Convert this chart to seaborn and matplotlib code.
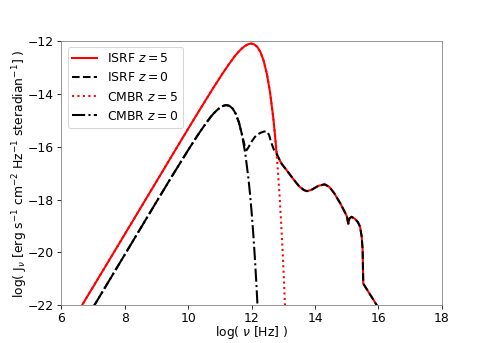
import matplotlib
matplotlib.use("Agg")
import matplotlib.pyplot as plt
import seaborn as sns

# log(nu [Hz]) and log(J_nu)
isrf_z0_x = [7.0, 8.0, 9.0, 9.5, 10.0, 10.3, 10.5, 10.7, 10.8, 10.9, 11.0, 11.1, 11.2, 11.3, 11.4,
             11.5, 11.6, 11.7, 11.78, 11.84, 11.9, 12.0, 12.1, 12.2, 12.3, 12.4, 12.48, 12.55, 12.62,
             12.7, 12.8, 12.95, 13.1, 13.3, 13.5, 13.65, 13.75, 13.9, 14.1, 14.3, 14.45, 14.6, 14.8,
             14.95, 15.0, 15.05, 15.08, 15.15, 15.25, 15.35, 15.42, 15.47, 15.5, 15.52, 16.0]
isrf_z0_y = [-22.08, -20.08, -18.08, -17.09, -16.12, -15.56, -15.21, -14.88, -14.74, -14.62, -14.52,
             -14.45, -14.42, -14.45, -14.55, -14.75, -15.08, -15.56, -15.95, -16.13, -16.02, -15.8,
             -15.63, -15.52, -15.46, -15.42, -15.42, -15.55, -15.85, -16.1, -16.3, -16.65, -16.88,
             -17.2, -17.5, -17.64, -17.68, -17.62, -17.48, -17.42, -17.52, -17.75, -18.15, -18.5,
             -18.62, -18.93, -18.72, -18.65, -18.72, -18.85, -19.03, -19.4, -19.9, -21.18, -22.1]

isrf_z5_x = [6.6, 7.78, 8.78, 9.78, 10.28, 10.78, 11.08, 11.28, 11.48, 11.58, 11.68, 11.78, 11.88,
             11.98, 12.08, 12.18, 12.28, 12.38, 12.48, 12.58, 12.68, 12.73, 12.78, 12.82,
             12.95, 13.1, 13.3, 13.5, 13.65, 13.75, 13.9, 14.1, 14.3, 14.45, 14.6, 14.8,
             14.95, 15.0, 15.05, 15.08, 15.15, 15.25, 15.35, 15.42, 15.47, 15.5, 15.52, 16.0]
isrf_z5_y = [-22.1, -19.75, -17.75, -15.75, -14.76, -13.79, -13.23, -12.88, -12.55, -12.41, -12.29,
             -12.19, -12.12, -12.09, -12.12, -12.22, -12.42, -12.75, -13.24, -13.93, -14.88, -15.47,
             -16.15, -16.36, -16.65, -16.88, -17.2, -17.5, -17.64, -17.68, -17.62, -17.48, -17.42,
             -17.52, -17.75, -18.15, -18.5, -18.62, -18.93, -18.72, -18.65, -18.72, -18.85, -19.03,
             -19.4, -19.9, -21.18, -22.1]

cmbr_z5_x = [6.6, 7.78, 8.78, 9.78, 10.28, 10.78, 11.08, 11.28, 11.48, 11.58, 11.68, 11.78, 11.88,
             11.98, 12.08, 12.18, 12.28, 12.38, 12.48, 12.58, 12.68, 12.73, 12.78, 12.83, 12.88,
             12.93, 12.98, 13.03, 13.08]
cmbr_z5_y = [-22.1, -19.75, -17.75, -15.75, -14.76, -13.79, -13.23, -12.88, -12.55, -12.41, -12.29,
             -12.19, -12.12, -12.09, -12.12, -12.22, -12.42, -12.75, -13.24, -13.93, -14.88, -15.47,
             -16.15, -16.94, -17.84, -18.86, -20.03, -21.36, -22.87]

cmbr_z0_x = [7.0, 8.0, 9.0, 9.5, 10.0, 10.3, 10.5, 10.7, 10.8, 10.9, 11.0, 11.1, 11.2, 11.3, 11.4,
             11.5, 11.6, 11.7, 11.8, 11.9, 11.95, 12.0, 12.05, 12.1, 12.15, 12.2]
cmbr_z0_y = [-22.08, -20.08, -18.08, -17.09, -16.12, -15.56, -15.21, -14.88, -14.74, -14.62, -14.52,
             -14.45, -14.42, -14.45, -14.55, -14.75, -15.08, -15.57, -16.26, -17.21, -17.8, -18.48,
             -19.27, -20.17, -21.19, -22.36]

xticks = [6, 8, 10, 12, 14, 16, 18]
yticks = [-22, -20, -18, -16, -14, -12]

plt.rcParams['font.size'] = 12
dpi = 74
fig, ax = plt.subplots(figsize=(491 / dpi, 343 / dpi), dpi=dpi)

lw = 2
sns.lineplot(x=isrf_z5_x, y=isrf_z5_y, sort=False, estimator=None, color='red',
             linestyle='-', lw=lw, label='ISRF $z=5$', ax=ax)
sns.lineplot(x=isrf_z0_x, y=isrf_z0_y, sort=False, estimator=None, color='black',
             linestyle='--', lw=lw, label='ISRF $z=0$', ax=ax)
sns.lineplot(x=cmbr_z5_x, y=cmbr_z5_y, sort=False, estimator=None, color='red',
             linestyle=':', lw=lw, label='CMBR $z=5$', ax=ax)
sns.lineplot(x=cmbr_z0_x, y=cmbr_z0_y, sort=False, estimator=None, color='black',
             linestyle='-.', lw=lw, label='CMBR $z=0$', ax=ax)

ax.set_xlim(6, 18)
ax.set_ylim(-22, -12)
ax.set_xticks(xticks)
ax.set_yticks(yticks)
ax.set_xlabel(r'log( $\nu$ [Hz] )', labelpad=-1)
ax.set_ylabel(r'log( J$_\nu$ [erg s$^{-1}$ cm$^{-2}$ Hz$^{-1}$ steradian$^{-1}$] )', labelpad=-2)
for s in ax.spines.values():
    s.set_color('0.5')
ax.legend(loc='upper left', fontsize=12)

fig.savefig('out.png', dpi=dpi)
